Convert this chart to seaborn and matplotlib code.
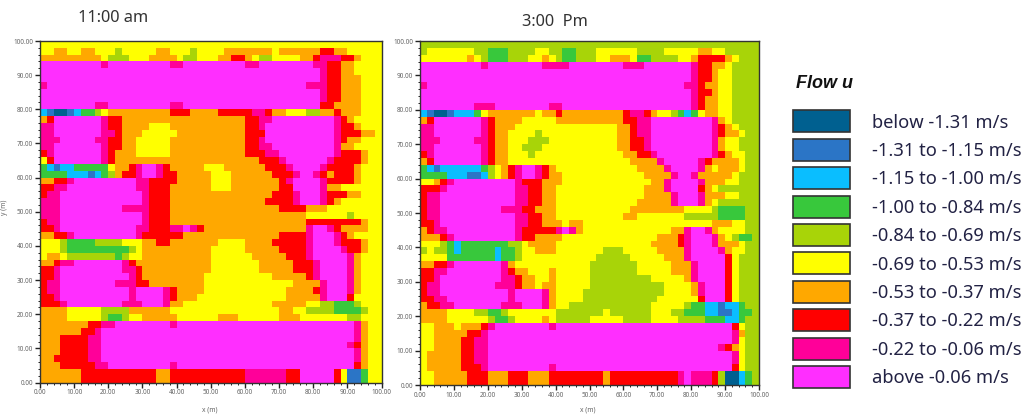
import numpy as np
import matplotlib
matplotlib.use("Agg")
import matplotlib.pyplot as plt
from matplotlib.colors import ListedColormap
from matplotlib.patches import Patch
import seaborn as sns

# Each row (top to bottom) lists "class@first column"; 50 columns of 2 m, classes 0-9 as in the legend.
rows_11am = [
"5@0",
"5@0 6@2 5@4 6@6 5@8 4@11 5@12 6@17 5@19 4@22 5@23 6@27 5@34 6@35 7@41 6@43 5@45",
"6@0 5@9 4@10 5@13 6@16 5@20 4@21 5@23 6@26 7@28 6@30 5@31 4@32 5@34 6@38 7@40 8@41 7@44 6@46 5@47",
"9@0 8@9 9@10 8@19 9@21 8@30 9@32 8@40 7@42 6@44 5@46",
"9@0 8@41 7@42 6@44 5@46",
"9@0 8@41 7@42 6@44 5@47",
"8@0 9@1 8@39 7@42 6@44 5@47",
"9@0 8@41 7@42 6@44 5@47",
"9@0 8@41 7@42 6@44 5@47",
"9@0 8@8 9@10 8@19 9@21 7@41 6@43 5@47",
"2@0 1@1 0@2 1@4 2@5 3@6 4@8 5@9 6@10 7@19 6@22 7@26 8@31 7@33 6@34 5@36 4@39 6@41 7@43 6@44 5@47",
"6@0 7@1 9@2 8@9 7@10 6@12 7@30 8@32 9@34 8@43 7@44 6@45 5@46",
"8@0 9@2 8@9 7@10 6@12 5@16 6@19 7@30 8@32 9@33 8@43 7@44 6@46 5@47",
"8@0 9@2 8@9 7@11 6@12 5@15 6@20 7@30 9@33 8@43 7@44 6@47 5@49",
"8@0 9@3 8@8 7@10 6@12 5@14 6@19 7@30 8@32 9@33 8@43 7@44 6@45 5@47",
"8@0 9@2 8@9 7@10 6@12 5@14 6@19 7@30 8@32 9@34 8@43 6@44 5@46",
"7@0 8@1 9@2 8@9 7@10 6@11 5@14 6@19 7@30 8@33 9@35 8@43 7@44 6@47 5@48",
"5@0 7@1 9@2 8@9 7@10 6@11 7@32 8@35 9@36 8@42 7@43 6@47 5@48",
"3@0 2@1 1@2 2@3 3@5 5@10 6@11 7@13 8@14 9@15 8@17 7@18 6@19 5@24 6@27 7@33 8@36 9@37 8@41 7@42 6@46 5@47",
"3@0 2@4 1@7 2@8 3@9 4@10 6@11 7@12 8@14 9@15 8@17 7@18 6@20 5@25 6@28 7@34 8@37 9@38 8@40 7@41 6@42 7@43 6@46 5@47",
"6@0 7@2 8@4 9@5 8@14 7@16 6@20 5@25 6@28 7@35 8@36 9@37 8@41 7@42 6@46 5@47",
"7@0 8@2 9@4 8@14 7@16 6@19 5@25 6@28 7@35 8@37 9@37 8@41 6@42 5@44",
"7@0 8@1 9@3 8@15 7@16 6@19 7@34 8@37 9@38 8@41 7@42 6@45 5@47",
"8@0 9@3 8@15 7@16 6@19 7@33 8@37 9@38 8@41 7@42 6@43 5@44",
"8@0 9@3 8@12 7@16 6@19 7@35 6@39 5@42",
"8@0 9@3 8@15 7@16 6@19 5@39 4@45 5@46",
"7@0 8@1 9@3 8@15 7@16 6@19 7@39 6@47 5@48",
"7@0 8@2 9@3 8@14 7@16 8@19 9@21 8@22 7@23 6@24 8@39 9@40 8@42 7@43 6@44 5@48",
"6@0 7@2 8@4 9@5 8@14 7@15 6@21 7@35 8@39 9@40 8@43 7@44 6@45 5@46",
"5@0 4@3 3@4 4@8 5@12 6@15 7@17 6@19 5@26 6@30 7@34 8@39 9@40 8@43 7@44 6@47 5@48",
"5@0 4@3 3@4 4@13 5@14 6@15 5@25 6@30 7@35 8@39 9@40 8@44 7@45 6@47 5@48",
"5@0 6@1 5@3 4@4 3@11 4@12 5@13 6@15 5@25 6@31 7@36 8@39 9@40 8@45 6@46 5@47",
"6@0 7@2 8@3 9@5 8@12 7@13 6@14 5@25 6@32 7@37 8@40 9@41 8@45 6@46 5@47",
"7@0 8@2 9@3 8@12 7@14 6@15 5@25 6@32 7@37 8@40 9@41 8@45 6@46 5@47",
"7@0 8@2 9@3 8@13 7@14 6@15 5@24 6@34 7@39 8@40 9@41 8@45 6@46 5@47",
"7@0 8@1 9@3 8@11 7@14 6@16 5@24 6@37 8@41 9@42 8@45 6@46 5@47",
"7@0 8@1 9@3 8@13 9@14 8@18 7@19 6@20 5@24 6@36 7@40 8@41 9@42 8@45 6@46 5@47",
"7@0 8@2 9@3 8@13 9@14 8@18 7@19 6@20 5@23 6@36 8@41 9@42 7@45 5@46",
"7@0 8@3 9@4 8@12 9@15 8@18 6@19 5@21 6@34 5@39 4@41 3@43 4@46 5@47",
"6@0 5@4 4@9 6@13 5@19 6@35 5@37 4@39 3@43 4@47 5@48",
"6@0 5@4 4@9 3@10 4@12 5@13 6@15 5@20 6@26 5@29 6@35 5@38 4@45 5@47",
"6@0 7@7 8@9 9@11 8@19 9@20 8@46 6@47 5@48",
"6@0 7@6 8@8 9@9 8@46 6@47 5@48",
"6@0 7@3 8@7 9@9 8@46 6@47 5@48",
"6@0 7@3 8@7 9@9 8@45 7@46 6@47 5@48",
"6@0 7@3 8@7 9@9 8@46 6@47 5@48",
"6@0 7@2 8@7 9@9 8@46 6@47 5@48",
"6@0 7@3 8@8 9@10 8@19 9@20 7@46 6@47 5@48",
"6@0 7@6 6@17 7@19 8@30 7@36 9@38 7@43 5@44 1@45 3@47 5@48",
"6@0 7@6 6@17 7@19 8@30 7@36 9@38 7@43 5@44 1@45 3@47 5@48",
]

rows_3pm = [
"4@0",
"4@0 5@1 4@8 3@10 4@13 5@17 4@19 3@21 4@23 5@26 4@32 5@36 6@41 5@43 4@45",
"5@0 6@7 5@8 4@9 3@10 4@13 5@16 6@18 5@19 4@20 3@21 4@23 5@26 6@28 5@31 3@32 4@34 5@38 6@40 7@41 6@45 5@46 4@47",
"9@0 8@9 9@10 8@18 9@22 8@30 9@33 8@40 7@41 6@43 5@45 4@46",
"9@0 8@40 7@41 6@43 5@44 4@46",
"9@0 8@40 7@41 6@43 5@44 4@46",
"8@0 9@1 8@39 7@41 6@42 5@44 4@46",
"9@0 8@40 7@41 6@43 5@44 4@46",
"9@0 8@40 7@41 6@42 5@44 4@46",
"9@0 8@8 9@11 8@19 9@21 8@40 7@41 6@42 5@44 4@46",
"2@0 1@1 0@2 1@4 2@5 3@8 5@9 6@10 5@17 6@18 7@20 6@21 7@30 8@31 7@33 6@34 5@35 4@37 3@38 2@39 3@40 5@41 6@42 5@44 4@46",
"6@0 7@1 9@2 8@9 7@10 6@11 5@15 6@20 7@30 8@32 9@34 8@43 6@44 5@45 4@46",
"8@0 9@2 8@9 7@10 6@11 5@14 6@29 7@31 8@32 9@34 8@43 7@44 6@45 5@46 4@47",
"8@0 9@2 8@9 7@10 6@11 5@13 4@17 5@18 6@29 7@31 8@32 9@34 8@43 7@44 6@45 5@47 4@48",
"8@0 9@3 8@8 7@10 6@11 5@13 4@16 5@19 6@29 7@31 8@33 9@34 8@43 6@44 5@45 4@47",
"8@0 9@2 8@9 7@10 6@11 5@13 4@15 5@18 6@29 7@31 8@33 9@34 8@43 6@44 5@45 4@47",
"7@0 8@1 9@2 8@9 7@10 6@11 5@13 4@16 5@17 6@30 7@32 8@34 9@35 8@43 7@44 6@45 5@46 4@48",
"6@0 7@1 9@2 8@9 7@10 6@11 5@13 6@31 8@35 9@36 8@41 7@42 6@43 5@47 4@48",
"3@0 2@1 1@2 2@3 3@9 4@10 5@11 6@12 7@13 8@14 9@15 8@17 7@18 6@19 5@20 6@32 8@36 9@37 8@41 6@42 5@43 6@44 5@47 4@48",
"3@0 2@4 1@7 2@9 4@10 5@11 6@12 7@13 8@14 9@15 8@17 7@18 6@19 5@21 6@33 8@37 9@38 8@40 6@41 5@46 4@47",
"5@0 6@2 7@3 8@4 9@5 8@14 7@15 6@18 5@21 6@34 8@36 9@37 8@41 6@42 5@45 4@47",
"7@0 8@3 9@4 8@14 7@16 6@18 5@20 6@33 8@36 9@37 7@41 6@42 5@43 4@44",
"7@0 8@1 9@3 8@14 7@16 6@18 5@20 6@33 8@37 9@38 8@41 6@42 5@45 4@47",
"7@0 8@1 9@3 8@14 7@16 6@18 5@20 6@32 8@37 9@38 8@41 6@42 5@43 4@44",
"7@0 8@1 9@3 8@12 7@15 6@17 5@20 6@31 5@39 4@43 3@44 4@48",
"7@0 8@1 9@3 8@14 7@16 6@18 5@20 6@30 5@32 4@39 3@44 4@48",
"7@0 8@2 9@3 8@14 7@16 6@18 5@21 6@22 5@24 6@43 5@46 4@48",
"6@0 7@1 8@2 9@4 8@14 7@15 8@20 9@21 8@22 6@23 5@24 6@37 8@39 9@40 8@42 6@43 5@44 4@48",
"6@0 7@3 8@4 9@5 8@14 7@15 6@17 5@21 6@35 7@38 8@39 9@40 8@43 6@44 5@45 4@46 3@47 4@49",
"5@0 4@3 3@4 2@5 3@6 4@13 5@15 6@16 5@20 6@34 7@38 8@39 9@40 8@43 6@44 5@47 4@48",
"4@0 5@1 4@2 3@4 2@5 3@6 2@11 3@12 4@14 5@15 6@17 5@20 4@27 5@30 6@35 8@39 9@40 8@44 6@45 5@46 4@48",
"5@0 3@4 2@11 3@12 4@14 5@15 4@26 5@31 6@36 8@39 9@40 7@45 5@46 4@47",
"6@0 7@2 8@4 9@5 8@12 6@13 5@14 4@25 5@32 6@37 8@40 9@41 7@45 5@46 4@47",
"7@0 8@2 9@4 8@12 7@13 6@14 5@16 6@19 5@20 4@25 5@32 6@37 8@40 9@41 7@45 5@46 4@47",
"7@0 8@2 9@3 8@12 7@14 6@15 5@17 6@19 5@20 4@25 5@34 6@39 8@40 9@41 7@45 5@46 4@47",
"7@0 8@1 9@3 8@11 7@14 6@15 5@17 6@18 5@20 4@25 5@36 6@40 8@41 9@42 7@45 5@46 4@47",
"7@0 8@1 9@3 8@13 9@14 8@18 6@19 5@20 4@24 5@36 6@40 8@41 9@42 7@45 5@46 4@47",
"7@0 8@2 9@4 8@13 9@14 8@18 6@19 5@20 4@24 5@35 7@41 9@42 7@45 5@46 4@47",
"6@0 7@1 8@3 9@5 8@12 9@15 8@18 6@19 5@20 4@22 5@34 4@39 3@40 2@42 1@44 2@45 3@47 4@48",
"6@0 5@4 4@8 3@10 4@12 5@13 4@20 5@27 4@28 5@34 4@37 3@39 2@42 1@44 2@46 3@47 4@49",
"6@0 5@4 4@10 3@11 4@13 5@14 6@18 5@19 4@20 5@25 4@30 5@34 4@38 3@42 2@45 3@47 4@48",
"5@0 6@2 5@5 6@6 7@9 8@10 9@11 8@19 9@20 7@46 5@47 4@48",
"5@0 6@2 7@7 8@9 9@10 8@46 6@47 4@48",
"5@0 6@2 7@6 8@8 9@10 8@46 5@47 4@48",
"5@0 6@2 7@6 8@8 9@10 8@44 7@45 6@46 5@47 4@48",
"5@0 6@1 7@6 8@8 9@10 8@46 5@47 4@48",
"5@0 6@1 7@6 8@8 9@10 8@46 5@47 4@48",
"5@0 6@1 7@6 8@9 9@10 8@19 9@20 7@46 5@47 4@48",
"5@0 6@2 7@7 6@10 7@13 6@16 7@19 6@27 7@28 8@38 9@39 8@40 7@43 4@44 0@45 2@47 3@48 4@49",
"5@0 6@2 7@7 6@10 7@13 6@16 7@19 6@27 7@28 8@38 9@39 8@40 7@43 4@44 0@45 2@47 3@48 4@49",
]

legend_labels = ["below -1.31 m/s", "-1.31 to -1.15 m/s", "-1.15 to -1.00 m/s", "-1.00 to -0.84 m/s",
                 "-0.84 to -0.69 m/s", "-0.69 to -0.53 m/s", "-0.53 to -0.37 m/s", "-0.37 to -0.22 m/s",
                 "-0.22 to -0.06 m/s", "above -0.06 m/s"]
class_colors = ["#006090", "#2B75C6", "#0ABEFF", "#38C83C", "#A8D408",
                "#FFFF00", "#FFA800", "#FF0000", "#FF0099", "#FF2EFF"]
axis_ticks = [0, 10, 20, 30, 40, 50, 60, 70, 80, 90, 100]
N_CELLS = 50


def decode(rows):
    grid = np.zeros((len(rows), N_CELLS), dtype=int)
    for r, row in enumerate(rows):
        runs = [tuple(map(int, part.split("@"))) for part in row.split()]
        for k, (cls, start) in enumerate(runs):
            end = runs[k + 1][1] if k + 1 < len(runs) else N_CELLS
            grid[r, start:end] = cls
    return grid


W, H = 1025, 419
plt.rcParams["font.family"] = ["Noto Sans", "DejaVu Sans"]
fig = plt.figure(figsize=(W / 100, H / 100), dpi=100, facecolor="white")
cmap = ListedColormap(class_colors)


def panel(rows, box, title, title_xy, xlabel_x):
    x0, y_top, x1, y_bot = box
    ax = fig.add_axes([x0 / W, 1 - y_bot / H, (x1 - x0) / W, (y_bot - y_top) / H])
    sns.heatmap(decode(rows), ax=ax, cmap=cmap, vmin=-0.5, vmax=9.5, cbar=False,
                xticklabels=False, yticklabels=False, rasterized=True)
    ax.set_xticks([t / 2 for t in axis_ticks])
    ax.set_xticklabels([f"{t:.2f}" for t in axis_ticks])
    ax.set_yticks([N_CELLS - t / 2 for t in axis_ticks])
    ax.set_yticklabels([f"{t:.2f}" for t in axis_ticks])
    ax.set_xticks(np.arange(N_CELLS + 1), minor=True)
    ax.set_yticks(np.arange(N_CELLS + 1), minor=True)
    ax.tick_params(axis="both", which="major", length=3.5, width=1.0, color="#222222",
                   labelsize=4.6, labelcolor="#666666", pad=1.5)
    ax.tick_params(axis="both", which="minor", length=1.5, width=0.7, color="#222222")
    ax.tick_params(axis="x", labelrotation=0)
    ax.tick_params(axis="y", labelrotation=0)
    for side, spine in ax.spines.items():
        spine.set_visible(True)
        spine.set_color("#333333")
        spine.set_linewidth(1.0)
    fig.text(title_xy[0] / W, 1 - title_xy[1] / H, title, fontsize=11.8, color="#333333",
             ha="center", va="center")
    fig.text(xlabel_x / W, 1 - 410 / H, "x (m)", fontsize=4.8, color="#666666", ha="center", va="center")
    return ax


panel(rows_11am, (40, 41, 381.5, 382.5), "11:00 am", (113, 18), 210)
panel(rows_3pm, (420, 41, 759, 385), "3:00  Pm", (555, 22), 588)
fig.text(5 / W, 1 - 207 / H, "y (m)", fontsize=4.8, color="#666666", rotation=90, ha="center", va="center")

fig.text(796 / W, 1 - 84 / H, "Flow u", fontsize=13, fontweight="bold", style="italic",
         family="Liberation Sans", color="#111111", ha="left", va="center")
handles = [Patch(facecolor=c, edgecolor="#333333", linewidth=1.2, label=l)
           for c, l in zip(class_colors, legend_labels)]
FS = 13.2
fpx = FS * 100 / 72
fig.legend(handles=handles, loc="upper left", bbox_to_anchor=(793 / W, 1 - 110.5 / H), frameon=False,
           fontsize=FS, labelcolor="#222244", borderpad=0, borderaxespad=0,
           handlelength=57 / fpx, handleheight=1.469, handletextpad=22 / fpx,
           labelspacing=(28.4 - 22) / fpx)

fig.savefig("out.png", dpi=100)
